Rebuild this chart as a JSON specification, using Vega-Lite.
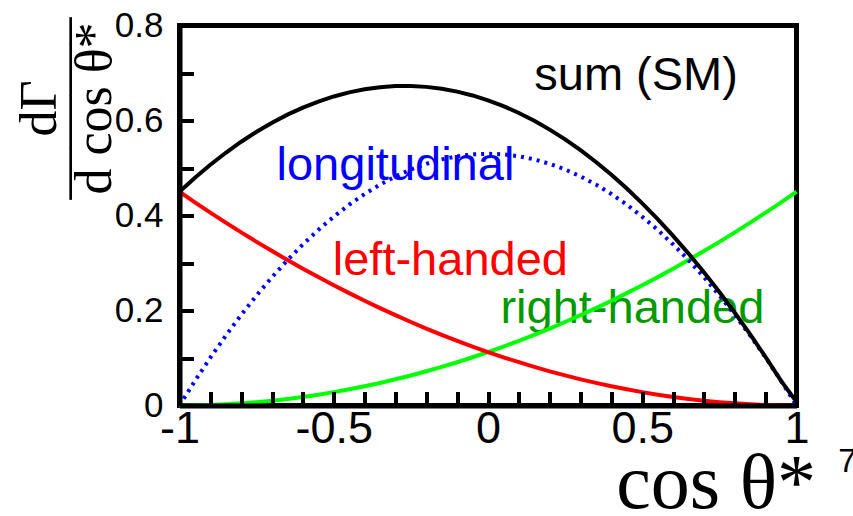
{
  "$schema": "https://vega.github.io/schema/vega-lite/v6.json",
  "width": 617,
  "height": 380,
  "autosize": {"type": "none"},
  "padding": {"left": 179.5, "top": 25.5, "right": 56.5, "bottom": 110.5},
  "background": "white",
  "config": {"view": {"stroke": "black", "strokeWidth": 5}},
  "datasets": {
    "curves": [
      {"c": -1.00, "left": 0.45, "right": 0, "long": 0, "sum": 0.45},
      {"c": -0.95, "left": 0.42778, "right": 0.000281, "long": 0.05168, "sum": 0.47946},
      {"c": -0.90, "left": 0.40613, "right": 0.001125, "long": 0.1007, "sum": 0.50683},
      {"c": -0.85, "left": 0.38503, "right": 0.002531, "long": 0.14708, "sum": 0.53211},
      {"c": -0.80, "left": 0.3645, "right": 0.0045, "long": 0.1908, "sum": 0.5553},
      {"c": -0.75, "left": 0.34453, "right": 0.007031, "long": 0.23188, "sum": 0.57641},
      {"c": -0.70, "left": 0.32513, "right": 0.010125, "long": 0.2703, "sum": 0.59543},
      {"c": -0.65, "left": 0.30628, "right": 0.013781, "long": 0.30608, "sum": 0.61236},
      {"c": -0.60, "left": 0.288, "right": 0.018, "long": 0.3392, "sum": 0.6272},
      {"c": -0.55, "left": 0.27028, "right": 0.022781, "long": 0.36968, "sum": 0.63996},
      {"c": -0.50, "left": 0.25313, "right": 0.028125, "long": 0.3975, "sum": 0.65063},
      {"c": -0.45, "left": 0.23653, "right": 0.034031, "long": 0.42268, "sum": 0.65921},
      {"c": -0.40, "left": 0.2205, "right": 0.0405, "long": 0.4452, "sum": 0.6657},
      {"c": -0.35, "left": 0.20503, "right": 0.047531, "long": 0.46508, "sum": 0.67011},
      {"c": -0.30, "left": 0.19013, "right": 0.055125, "long": 0.4823, "sum": 0.67243},
      {"c": -0.25, "left": 0.17578, "right": 0.063281, "long": 0.49688, "sum": 0.67266},
      {"c": -0.20, "left": 0.162, "right": 0.072, "long": 0.5088, "sum": 0.6708},
      {"c": -0.15, "left": 0.14878, "right": 0.081281, "long": 0.51808, "sum": 0.66686},
      {"c": -0.10, "left": 0.13613, "right": 0.091125, "long": 0.5247, "sum": 0.66083},
      {"c": -0.05, "left": 0.12403, "right": 0.10153, "long": 0.52868, "sum": 0.65271},
      {"c": 0.00, "left": 0.1125, "right": 0.1125, "long": 0.53, "sum": 0.6425},
      {"c": 0.05, "left": 0.10153, "right": 0.12403, "long": 0.52868, "sum": 0.63021},
      {"c": 0.10, "left": 0.091125, "right": 0.13613, "long": 0.5247, "sum": 0.61583},
      {"c": 0.15, "left": 0.081281, "right": 0.14878, "long": 0.51808, "sum": 0.59936},
      {"c": 0.20, "left": 0.072, "right": 0.162, "long": 0.5088, "sum": 0.5808},
      {"c": 0.25, "left": 0.063281, "right": 0.17578, "long": 0.49688, "sum": 0.56016},
      {"c": 0.30, "left": 0.055125, "right": 0.19013, "long": 0.4823, "sum": 0.53743},
      {"c": 0.35, "left": 0.047531, "right": 0.20503, "long": 0.46508, "sum": 0.51261},
      {"c": 0.40, "left": 0.0405, "right": 0.2205, "long": 0.4452, "sum": 0.4857},
      {"c": 0.45, "left": 0.034031, "right": 0.23653, "long": 0.42268, "sum": 0.45671},
      {"c": 0.50, "left": 0.028125, "right": 0.25313, "long": 0.3975, "sum": 0.42563},
      {"c": 0.55, "left": 0.022781, "right": 0.27028, "long": 0.36968, "sum": 0.39246},
      {"c": 0.60, "left": 0.018, "right": 0.288, "long": 0.3392, "sum": 0.3572},
      {"c": 0.65, "left": 0.013781, "right": 0.30628, "long": 0.30608, "sum": 0.31986},
      {"c": 0.70, "left": 0.010125, "right": 0.32513, "long": 0.2703, "sum": 0.28043},
      {"c": 0.75, "left": 0.007031, "right": 0.34453, "long": 0.23188, "sum": 0.23891},
      {"c": 0.80, "left": 0.0045, "right": 0.3645, "long": 0.1908, "sum": 0.1953},
      {"c": 0.85, "left": 0.002531, "right": 0.38503, "long": 0.14708, "sum": 0.14961},
      {"c": 0.90, "left": 0.001125, "right": 0.40613, "long": 0.1007, "sum": 0.10183},
      {"c": 0.95, "left": 0.000281, "right": 0.42778, "long": 0.05168, "sum": 0.05196},
      {"c": 1.00, "left": 0, "right": 0.45, "long": 0, "sum": 0.008}
    ],
    "labels": [
      {"label": "sum (SM)", "c": 0.48, "v": 0.664},
      {"label": "longitudinal", "c": -0.30, "v": 0.475},
      {"label": "left-handed", "c": -0.122, "v": 0.275},
      {"label": "right-handed", "c": 0.468, "v": 0.174}
    ],
    "page": [
      {"label": "7", "c": 1.135, "v": -0.14}
    ]
  },
  "encoding": {
    "x": {
      "field": "c",
      "type": "quantitative",
      "scale": {"domain": [-1, 1], "nice": false, "zero": false},
      "axis": {
        "orient": "bottom",
        "zindex": 1,
        "values": [-1, -0.9, -0.8, -0.7, -0.6, -0.5, -0.4, -0.3, -0.2, -0.1, 0, 0.1, 0.2, 0.3, 0.4, 0.5, 0.6, 0.7, 0.8, 0.9, 1],
        "labelExpr": "abs(datum.value*2 - round(datum.value*2)) < 0.001 ? toString(datum.value) : ''",
        "labelFont": "Liberation Sans",
        "labelFontSize": 45,
        "labelColor": "black",
        "labelPadding": 14.5,
        "labelBaseline": "top",
        "labelOverlap": false,
        "labelFlush": false,
        "labelBound": false,
        "domain": true,
        "domainColor": "black",
        "domainWidth": 5,
        "ticks": true,
        "tickColor": "black",
        "tickWidth": 4,
        "tickSize": -14,
        "encoding": {
          "ticks": {
            "update": {
              "y2": [
                {"test": "abs(datum.value*2 - round(datum.value*2)) < 0.001", "value": -14},
                {"value": -7}
              ]
            }
          }
        },
        "grid": false,
        "title": "cos θ*",
        "titleFont": "Liberation Serif",
        "titleFontSize": 78,
        "titleFontWeight": "normal",
        "titleColor": "black",
        "titleAlign": "right",
        "titleBaseline": "alphabetic",
        "titleX": 636,
        "titleY": 102
      }
    },
    "y": {
      "type": "quantitative",
      "scale": {"domain": [0, 0.8], "nice": false, "zero": true}
    }
  },
  "layer": [
    {
      "data": {"name": "labels"},
      "mark": {"type": "text", "font": "Liberation Sans", "fontSize": 47, "align": "center", "baseline": "alphabetic"},
      "encoding": {
        "y": {
          "field": "v",
          "type": "quantitative",
          "axis": {
            "orient": "left",
            "zindex": 1,
            "values": [0, 0.05, 0.1, 0.15, 0.2, 0.25, 0.3, 0.35, 0.4, 0.45, 0.5, 0.55, 0.6, 0.65, 0.7, 0.75, 0.8],
            "labelExpr": "abs(datum.value*5 - round(datum.value*5)) < 0.001 ? toString(datum.value) : ''",
            "labelFont": "Liberation Sans",
            "labelFontSize": 35,
            "labelColor": "black",
            "labelPadding": 30.5,
            "labelOverlap": false,
            "labelFlush": false,
            "labelBound": false,
            "domain": true,
            "domainColor": "black",
            "domainWidth": 5,
            "ticks": true,
            "tickColor": "black",
            "tickWidth": 4,
            "tickSize": -14,
            "encoding": {
              "ticks": {
                "update": {
                  "x2": [
                    {"test": "abs(datum.value*5 - round(datum.value*5)) < 0.001", "value": 14},
                    {"value": 7}
                  ]
                }
              }
            },
            "grid": false,
            "title": ["dΓ", "———–", "d cos θ*"],
            "titleFont": "Liberation Serif",
            "titleFontSize": 52,
            "titleFontWeight": "normal",
            "titleColor": "black",
            "titleLineHeight": 27.5,
            "titleAngle": 270,
            "titleAlign": "center",
            "titleBaseline": "alphabetic",
            "titleX": -124.5,
            "titleY": 82.5
          }
        },
        "text": {"field": "label"},
        "color": {
          "field": "label",
          "type": "nominal",
          "scale": {"domain": ["sum (SM)", "longitudinal", "left-handed", "right-handed"], "range": ["#000000", "#0000ff", "#ff0000", "#009900"]},
          "legend": null
        }
      }
    },
    {
      "data": {"name": "page"},
      "mark": {"type": "text", "font": "Liberation Sans", "fontSize": 33, "align": "left", "baseline": "alphabetic", "color": "black"},
      "encoding": {
        "y": {"field": "v", "type": "quantitative"},
        "text": {"field": "label"}
      }
    },
    {
      "data": {"name": "curves"},
      "mark": {"type": "line", "color": "#00ff00", "strokeWidth": 4},
      "encoding": {"y": {"field": "right", "type": "quantitative"}}
    },
    {
      "data": {"name": "curves"},
      "mark": {"type": "line", "color": "#ff0000", "strokeWidth": 4},
      "encoding": {"y": {"field": "left", "type": "quantitative"}}
    },
    {
      "data": {"name": "curves"},
      "mark": {"type": "line", "color": "#0000ff", "strokeWidth": 4, "strokeDash": [3, 5]},
      "encoding": {"y": {"field": "long", "type": "quantitative"}}
    },
    {
      "data": {"name": "curves"},
      "mark": {"type": "line", "color": "#000000", "strokeWidth": 4},
      "encoding": {"y": {"field": "sum", "type": "quantitative"}}
    }
  ]
}
